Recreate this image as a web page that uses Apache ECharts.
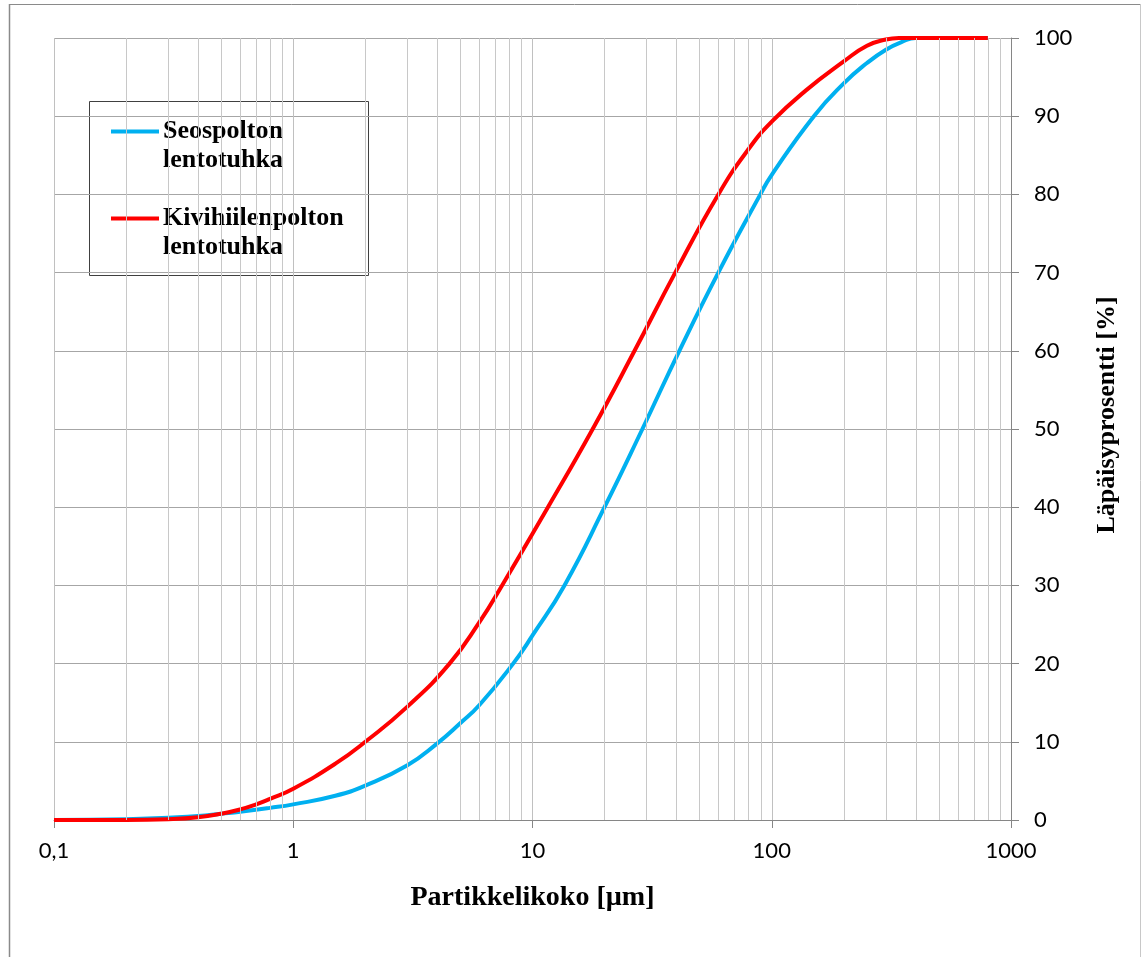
<!DOCTYPE html>
<html>
<head>
<meta charset="utf-8">
<script src="https://cdn.jsdelivr.net/npm/echarts@6/dist/echarts.min.js"></script>
<style>
  html, body { margin: 0; padding: 0; background: #fff; }
  #chart { width: 1141px; height: 957px; }
</style>
</head>
<body>
<div id="chart"></div>
<script>
// Particle size distribution of two fly ashes (cumulative passing, %)
const seosSize = [0.1, 0.2, 0.3, 0.4, 0.5, 0.6, 0.8, 1, 1.5, 2, 3, 4, 5, 6, 8.3, 10, 13.6, 20, 28.8, 41.1, 59.8, 89.6, 100, 150, 200, 250, 300, 350, 400, 500, 800];
const seosPass = [0, 0.1, 0.3, 0.5, 0.8, 1.05, 1.55, 2.0, 3.1, 4.4, 7.0, 9.8, 12.4, 14.7, 20, 23.6, 30, 40, 50, 60, 70, 80, 82.5, 90, 94.2, 96.8, 98.5, 99.5, 100, 100, 100];

const kiviSize = [0.1, 0.2, 0.3, 0.4, 0.5, 0.6, 0.7, 0.8, 1, 1.5, 2, 3, 4.5, 6, 7.46, 11.6, 17.85, 26.7, 39.5, 59.8, 80, 100, 139, 200, 250, 300, 340, 450, 800];
const kiviPass = [0, 0, 0.1, 0.35, 0.8, 1.35, 2.0, 2.7, 4.0, 7.2, 10, 14.5, 20, 25.3, 30, 40, 50, 60, 70, 80, 85.8, 89.3, 93.3, 97.0, 99.0, 99.8, 100, 100, 100];

const seriesNames = ['Seospolton\nlentotuhka', 'Kivihiilenpolton\nlentotuhka'];
const seriesColors = ['#00b0f0', '#ff0000'];
const xTickLabels = ['0,1', '1', '10', '100', '1000'];
const minorGrid = [0.2, 0.3, 0.4, 0.5, 0.6, 0.7, 0.8, 0.9,
                   2, 3, 4, 5, 6, 7, 8, 9,
                   20, 30, 40, 50, 60, 70, 80, 90,
                   200, 300, 400, 500, 600, 700, 800, 900];
const xTitle = 'Partikkelikoko [µm]';
const yTitle = 'Läpäisyprosentti [%]';

const pairs = (xs, ys) => xs.map((x, i) => [x, ys[i]]);

const labelFont = 'Lato';
const titleFont = '"Liberation Serif", "Times New Roman", serif';

const chart = echarts.init(document.getElementById('chart'), null, { renderer: 'canvas' });

const option = {
  backgroundColor: '#ffffff',
  animation: false,
  grid: { left: 54, top: 38, width: 957, height: 782, containLabel: false },
  xAxis: {
    type: 'log',
    logBase: 10,
    min: 0.1,
    max: 1000,
    splitNumber: 4,
    axisLine: { show: true, lineStyle: { color: '#868686', width: 1 } },
    axisTick: { show: true, inside: false, length: 8, lineStyle: { color: '#868686' } },
    splitLine: { show: true, lineStyle: { color: '#c0c0c0', width: 1 } },
    axisLabel: {
      margin: 20,
      fontFamily: labelFont,
      fontSize: 22,
      color: '#000',
      formatter: v => xTickLabels[Math.round(Math.log10(v)) + 1]
    },
    name: xTitle,
    nameLocation: 'middle',
    nameGap: 64,
    nameTextStyle: { fontFamily: titleFont, fontWeight: 'bold', fontSize: 28, color: '#000' }
  },
  yAxis: {
    type: 'value',
    position: 'right',
    min: 0,
    max: 100,
    interval: 10,
    axisLine: { show: true, lineStyle: { color: '#868686', width: 1 } },
    axisTick: { show: true, inside: false, length: 8, lineStyle: { color: '#868686' } },
    splitLine: { show: true, lineStyle: { color: '#a6a6a6', width: 1 } },
    axisLabel: { margin: 23, fontFamily: labelFont, fontSize: 22, color: '#000', align: 'left' }
  },
  series: [
    {
      // minor vertical gridlines of the log axis
      type: 'line',
      data: [],
      silent: true,
      z: 1,
      markLine: {
        silent: true,
        symbol: 'none',
        label: { show: false },
        lineStyle: { color: '#c8c8c8', width: 1, type: 'solid' },
        data: minorGrid.map(v => ({ xAxis: v }))
      }
    },
    {
      name: seriesNames[0],
      type: 'line',
      data: pairs(seosSize, seosPass),
      smooth: 0.5,
      showSymbol: false,
      symbol: 'none',
      clip: false,
      z: 3,
      lineStyle: { color: seriesColors[0], width: 4 },
      itemStyle: { color: seriesColors[0] }
    },
    {
      name: seriesNames[1],
      type: 'line',
      data: pairs(kiviSize, kiviPass),
      smooth: 0.5,
      showSymbol: false,
      symbol: 'none',
      clip: false,
      z: 4,
      lineStyle: { color: seriesColors[1], width: 4 },
      itemStyle: { color: seriesColors[1] }
    }
  ],
  graphic: [
    // outer frame
    { type: 'line', shape: { x1: 9, y1: 4.5, x2: 1140, y2: 4.5 }, style: { stroke: '#8a8a8a', lineWidth: 1 }, silent: true },
    { type: 'line', shape: { x1: 9.5, y1: 4, x2: 9.5, y2: 957 }, style: { stroke: '#8a8a8a', lineWidth: 1.5 }, silent: true },
    { type: 'line', shape: { x1: 1140.5, y1: 4, x2: 1140.5, y2: 957 }, style: { stroke: '#c8c8c8', lineWidth: 1 }, silent: true },
    // y axis title
    {
      type: 'text',
      x: 1107, y: 415,
      rotation: Math.PI / 2,
      silent: true,
      style: {
        text: yTitle,
        font: 'bold 26px ' + titleFont,
        fill: '#000',
        textAlign: 'center',
        textVerticalAlign: 'middle'
      }
    },
    // legend
    {
      type: 'group',
      left: 89, top: 101,
      silent: true,
      z: 100,
      children: [
        { type: 'rect', shape: { x: 0.5, y: 0.5, width: 279, height: 174 }, style: { fill: '#fff', stroke: '#404040', lineWidth: 1 } },
        { type: 'line', shape: { x1: 22, y1: 30.5, x2: 70, y2: 30.5 }, style: { stroke: seriesColors[0], lineWidth: 4 } },
        { type: 'text', x: 74, y: 30.5, style: { text: 'Seospolton', font: 'bold 26px ' + titleFont, fill: '#000', textVerticalAlign: 'middle' } },
        { type: 'text', x: 74, y: 59.5, style: { text: 'lentotuhka', font: 'bold 26px ' + titleFont, fill: '#000', textVerticalAlign: 'middle' } },
        { type: 'line', shape: { x1: 22, y1: 117.5, x2: 70, y2: 117.5 }, style: { stroke: seriesColors[1], lineWidth: 4 } },
        { type: 'text', x: 74, y: 117.5, style: { text: 'Kivihiilenpolton', font: 'bold 26px ' + titleFont, fill: '#000', textVerticalAlign: 'middle' } },
        { type: 'text', x: 74, y: 146.5, style: { text: 'lentotuhka', font: 'bold 26px ' + titleFont, fill: '#000', textVerticalAlign: 'middle' } }
      ]
    }
  ]
};

chart.setOption(option);
</script>
</body>
</html>
